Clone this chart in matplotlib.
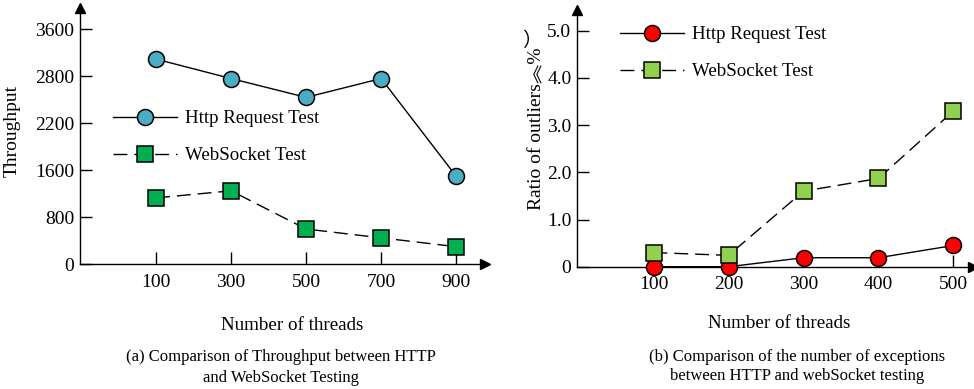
import numpy as np
import matplotlib
matplotlib.use("Agg")
import matplotlib.pyplot as plt

plt.rcParams['font.family'] = ['Liberation Serif', 'Noto Sans CJK SC', 'DejaVu Sans']
plt.rcParams['axes.unicode_minus'] = False

# (a) throughput
threads_a = [100, 300, 500, 700, 900]
http_tp = [3090, 2770, 2530, 2770, 1500]
ws_tp = [1130, 1250, 600, 450, 300]
yticks_a = [0, 800, 1600, 2200, 2800, 3600]

# (b) ratio of outliers (%)
threads_b = [100, 200, 300, 400, 500]
http_ratio = [0.0, 0.0, 0.19, 0.19, 0.45]
ws_ratio = [0.3, 0.24, 1.6, 1.87, 3.3]
yticks_b = [0, 1.0, 2.0, 3.0, 4.0, 5.0]
ytick_labels_b = ['0', '1.0', '2.0', '3.0', '4.0', '5.0']

W, H = 974, 389


def fwd(v):
    # the tick labels of (a) are not evenly spaced, but the ticks are
    v = np.asarray(v, dtype=float)
    idx = np.interp(v, yticks_a, np.arange(len(yticks_a)))
    idx = np.where(v > yticks_a[-1], len(yticks_a) - 1 + (v - yticks_a[-1]) / 800, idx)
    idx = np.where(v < 0, v / 800, idx)
    return idx


def inv(i):
    i = np.asarray(i, dtype=float)
    n = len(yticks_a) - 1
    v = np.interp(i, np.arange(len(yticks_a)), yticks_a)
    v = np.where(i > n, yticks_a[-1] + (i - n) * 800, v)
    v = np.where(i < 0, i * 800, v)
    return v


def style_axes(ax):
    for s in ['top', 'right']:
        ax.spines[s].set_visible(False)
    for s in ['left', 'bottom']:
        ax.spines[s].set_linewidth(1.0)
    ax.tick_params(axis='y', direction='in', length=8.5, width=1.0, labelsize=14, pad=4)
    ax.tick_params(axis='x', direction='in', length=9, width=1.0, labelsize=14, pad=7)
    # arrow heads at the ends of the axes
    ax.plot(1, 0, '>k', ms=7, transform=ax.transAxes, clip_on=False)
    ax.plot(0, 1, '^k', ms=7, transform=ax.transAxes, clip_on=False)


fig = plt.figure(figsize=(W / 100, H / 100), dpi=100)

# ---- (a)
ax1 = fig.add_axes([80 / W, 124.7 / H, (485 - 80) / W, (381 - 124.7) / H])
ax1.set_yscale('function', functions=(fwd, inv))
l1, = ax1.plot(threads_a, http_tp, '-o', color='black', lw=1.0, ms=11.5,
               mfc='#4BACC6', mec='black', mew=1.1, clip_on=False, zorder=3)
l2, = ax1.plot(threads_a, ws_tp, '--s', color='black', lw=1.0, ms=11,
               mfc='#00B050', mec='black', mew=1.1, dashes=(10, 5), clip_on=False, zorder=4)
ax1.set_xlim(-103, 977)
ax1.set_ylim(0, 3960)
ax1.set_xticks(threads_a)
ax1.set_yticks(yticks_a)
ax1.set_yticklabels([str(v) for v in yticks_a])
ax1.yaxis.set_minor_locator(matplotlib.ticker.NullLocator())
style_axes(ax1)
ax1.set_ylabel('Throughput', fontsize=14)
ax1.yaxis.set_label_coords(-59 / 405, (389 - 131 - 124.7) / (381 - 124.7))
ax1.legend([l1, l2], ['Http Request Test', 'WebSocket Test'],
           loc='upper left', bbox_to_anchor=(113 / W, 1 - 110 / H),
           bbox_transform=fig.transFigure, frameon=False, fontsize=13.6,
           borderpad=0, borderaxespad=0, handlelength=3.4, handletextpad=0.4,
           labelspacing=1.05)

# ---- (b)
ax2 = fig.add_axes([577 / W, 122.3 / H, (973 - 577) / W, (379 - 122.3) / H])
r1, = ax2.plot(threads_b, http_ratio, '-o', color='black', lw=1.0, ms=11.5,
               mfc='#FF0000', mec='black', mew=1.1, clip_on=False, zorder=3)
r2, = ax2.plot(threads_b, ws_ratio, '--s', color='black', lw=1.0, ms=11,
               mfc='#92D050', mec='black', mew=1.1, dashes=(10, 5), clip_on=False, zorder=4)
ax2.set_xlim(-2, 526)
ax2.set_ylim(0, 5.44)
ax2.set_xticks(threads_b)
ax2.set_yticks(yticks_b)
ax2.set_yticklabels(ytick_labels_b)
style_axes(ax2)
ax2.set_ylabel('Ratio of outliers︽%︶', fontsize=14)
ax2.yaxis.set_label_coords(-33 / 396, (389 - 119 - 122.3) / (379 - 122.3))
ax2.legend([r1, r2], ['Http Request Test', 'WebSocket Test'],
           loc='upper left', bbox_to_anchor=(620 / W, 1 - 26 / H),
           bbox_transform=fig.transFigure, frameon=False, fontsize=13.6,
           borderpad=0, borderaxespad=0, handlelength=3.4, handletextpad=0.4,
           labelspacing=1.05)

# x labels and captions
fig.text(292 / W, 1 - 325 / H, 'Number of threads', ha='center', va='center', fontsize=13.7)
fig.text(779 / W, 1 - 323 / H, 'Number of threads', ha='center', va='center', fontsize=13.7)
fig.text(281 / W, 1 - 357 / H, '(a) Comparison of Throughput between HTTP',
         ha='center', va='center', fontsize=12)
fig.text(281 / W, 1 - 378 / H, 'and WebSocket Testing',
         ha='center', va='center', fontsize=12)
fig.text(797 / W, 1 - 357 / H, '(b) Comparison of the number of exceptions',
         ha='center', va='center', fontsize=12)
fig.text(797 / W, 1 - 376 / H, 'between HTTP and webSocket testing',
         ha='center', va='center', fontsize=12)

fig.savefig('out.png', dpi=100)
